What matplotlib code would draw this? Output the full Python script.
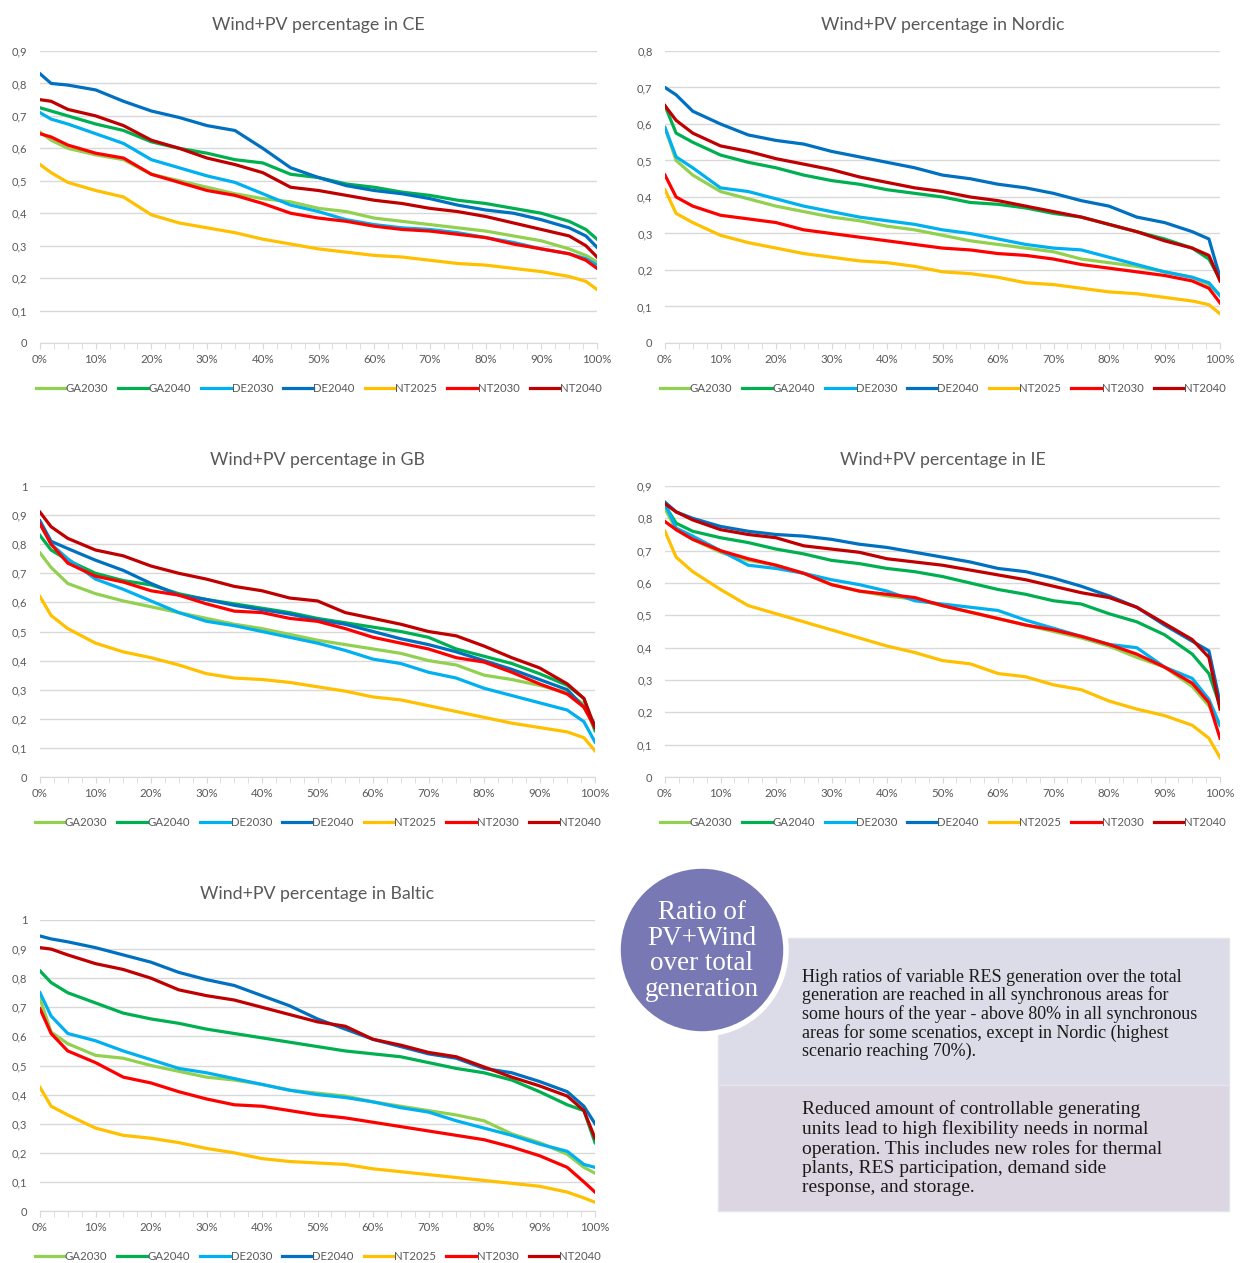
import matplotlib
matplotlib.use("Agg")
import matplotlib.pyplot as plt
from matplotlib.patches import Circle, Rectangle
from matplotlib.ticker import FuncFormatter, MultipleLocator

plt.rcParams['font.family'] = ['Lato', 'DejaVu Sans']

# share of the year (duration curve), in %
x_pct = [0, 2, 5, 10, 15, 20, 25, 30, 35, 40, 45, 50, 55, 60, 65, 70, 75, 80, 85, 90, 95, 98, 100]

scenarios = ['GA2030', 'GA2040', 'DE2030', 'DE2040', 'NT2025', 'NT2030', 'NT2040']
colors = ['#92D050', '#00B050', '#00B0F0', '#0070C0', '#FFC000', '#FF0000', '#C00000']

# Wind+PV share, one list per scenario, same order as scenarios
ce = [
    [0.65, 0.625, 0.60, 0.58, 0.565, 0.52, 0.50, 0.48, 0.46, 0.445, 0.435, 0.415, 0.405, 0.385, 0.375, 0.365, 0.355, 0.345, 0.33, 0.315, 0.29, 0.27, 0.25],
    [0.725, 0.715, 0.70, 0.675, 0.655, 0.62, 0.60, 0.585, 0.565, 0.555, 0.52, 0.51, 0.49, 0.48, 0.465, 0.455, 0.44, 0.43, 0.415, 0.40, 0.375, 0.35, 0.32],
    [0.71, 0.69, 0.675, 0.645, 0.615, 0.565, 0.54, 0.515, 0.495, 0.46, 0.425, 0.405, 0.38, 0.365, 0.355, 0.35, 0.34, 0.325, 0.31, 0.29, 0.275, 0.26, 0.24],
    [0.83, 0.80, 0.795, 0.78, 0.745, 0.715, 0.695, 0.67, 0.655, 0.60, 0.54, 0.51, 0.485, 0.47, 0.46, 0.445, 0.425, 0.41, 0.40, 0.38, 0.355, 0.33, 0.295],
    [0.55, 0.525, 0.495, 0.47, 0.45, 0.395, 0.37, 0.355, 0.34, 0.32, 0.305, 0.29, 0.28, 0.27, 0.265, 0.255, 0.245, 0.24, 0.23, 0.22, 0.205, 0.19, 0.165],
    [0.645, 0.635, 0.61, 0.585, 0.57, 0.52, 0.495, 0.47, 0.455, 0.43, 0.40, 0.385, 0.375, 0.36, 0.35, 0.345, 0.335, 0.325, 0.305, 0.29, 0.275, 0.255, 0.23],
    [0.75, 0.745, 0.72, 0.70, 0.67, 0.625, 0.60, 0.57, 0.55, 0.525, 0.48, 0.47, 0.455, 0.44, 0.43, 0.415, 0.405, 0.39, 0.37, 0.35, 0.33, 0.30, 0.265],
]
nordic = [
    [0.59, 0.50, 0.46, 0.415, 0.395, 0.375, 0.36, 0.345, 0.335, 0.32, 0.31, 0.295, 0.28, 0.27, 0.26, 0.25, 0.23, 0.22, 0.21, 0.195, 0.18, 0.16, 0.13],
    [0.65, 0.575, 0.55, 0.515, 0.495, 0.48, 0.46, 0.445, 0.435, 0.42, 0.41, 0.40, 0.385, 0.38, 0.37, 0.355, 0.345, 0.325, 0.305, 0.285, 0.26, 0.23, 0.175],
    [0.59, 0.51, 0.48, 0.425, 0.415, 0.395, 0.375, 0.36, 0.345, 0.335, 0.325, 0.31, 0.30, 0.285, 0.27, 0.26, 0.255, 0.235, 0.215, 0.195, 0.18, 0.165, 0.13],
    [0.70, 0.68, 0.635, 0.60, 0.57, 0.555, 0.545, 0.525, 0.51, 0.495, 0.48, 0.46, 0.45, 0.435, 0.425, 0.41, 0.39, 0.375, 0.345, 0.33, 0.305, 0.285, 0.18],
    [0.42, 0.355, 0.33, 0.295, 0.275, 0.26, 0.245, 0.235, 0.225, 0.22, 0.21, 0.195, 0.19, 0.18, 0.165, 0.16, 0.15, 0.14, 0.135, 0.125, 0.115, 0.105, 0.08],
    [0.46, 0.40, 0.375, 0.35, 0.34, 0.33, 0.31, 0.30, 0.29, 0.28, 0.27, 0.26, 0.255, 0.245, 0.24, 0.23, 0.215, 0.205, 0.195, 0.185, 0.17, 0.15, 0.11],
    [0.65, 0.61, 0.575, 0.54, 0.525, 0.505, 0.49, 0.475, 0.455, 0.44, 0.425, 0.415, 0.40, 0.39, 0.375, 0.36, 0.345, 0.325, 0.305, 0.28, 0.26, 0.24, 0.17],
]
gb = [
    [0.77, 0.72, 0.665, 0.63, 0.605, 0.585, 0.565, 0.545, 0.525, 0.51, 0.49, 0.47, 0.455, 0.44, 0.425, 0.40, 0.385, 0.35, 0.335, 0.315, 0.29, 0.25, 0.16],
    [0.83, 0.78, 0.745, 0.70, 0.675, 0.66, 0.63, 0.61, 0.595, 0.58, 0.565, 0.545, 0.53, 0.515, 0.50, 0.48, 0.44, 0.415, 0.39, 0.355, 0.315, 0.27, 0.16],
    [0.87, 0.80, 0.75, 0.68, 0.645, 0.605, 0.565, 0.535, 0.52, 0.50, 0.48, 0.46, 0.435, 0.405, 0.39, 0.36, 0.34, 0.305, 0.28, 0.255, 0.23, 0.19, 0.12],
    [0.88, 0.81, 0.785, 0.745, 0.71, 0.665, 0.625, 0.61, 0.59, 0.575, 0.56, 0.54, 0.525, 0.50, 0.475, 0.455, 0.43, 0.40, 0.37, 0.335, 0.30, 0.24, 0.18],
    [0.62, 0.555, 0.51, 0.46, 0.43, 0.41, 0.385, 0.355, 0.34, 0.335, 0.325, 0.31, 0.295, 0.275, 0.265, 0.245, 0.225, 0.205, 0.185, 0.17, 0.155, 0.135, 0.09],
    [0.87, 0.80, 0.735, 0.69, 0.67, 0.64, 0.625, 0.595, 0.57, 0.565, 0.545, 0.535, 0.51, 0.48, 0.46, 0.44, 0.41, 0.395, 0.36, 0.32, 0.285, 0.24, 0.17],
    [0.91, 0.86, 0.82, 0.78, 0.76, 0.725, 0.70, 0.68, 0.655, 0.64, 0.615, 0.605, 0.565, 0.545, 0.525, 0.50, 0.485, 0.45, 0.41, 0.375, 0.32, 0.27, 0.17],
]
ie = [
    [0.83, 0.765, 0.735, 0.695, 0.67, 0.655, 0.63, 0.595, 0.575, 0.56, 0.55, 0.53, 0.51, 0.49, 0.47, 0.45, 0.43, 0.405, 0.37, 0.34, 0.28, 0.22, 0.16],
    [0.84, 0.785, 0.76, 0.74, 0.725, 0.705, 0.69, 0.67, 0.66, 0.645, 0.635, 0.62, 0.60, 0.58, 0.565, 0.545, 0.535, 0.505, 0.48, 0.44, 0.38, 0.32, 0.22],
    [0.845, 0.77, 0.745, 0.70, 0.655, 0.645, 0.63, 0.61, 0.595, 0.575, 0.545, 0.535, 0.525, 0.515, 0.485, 0.46, 0.435, 0.41, 0.40, 0.34, 0.305, 0.24, 0.16],
    [0.85, 0.82, 0.80, 0.775, 0.76, 0.75, 0.745, 0.735, 0.72, 0.71, 0.695, 0.68, 0.665, 0.645, 0.635, 0.615, 0.59, 0.56, 0.525, 0.47, 0.42, 0.39, 0.23],
    [0.76, 0.68, 0.635, 0.58, 0.53, 0.505, 0.48, 0.455, 0.43, 0.405, 0.385, 0.36, 0.35, 0.32, 0.31, 0.285, 0.27, 0.235, 0.21, 0.19, 0.16, 0.12, 0.06],
    [0.79, 0.765, 0.735, 0.70, 0.675, 0.655, 0.63, 0.595, 0.575, 0.565, 0.555, 0.53, 0.51, 0.49, 0.47, 0.455, 0.435, 0.41, 0.38, 0.34, 0.29, 0.23, 0.12],
    [0.845, 0.82, 0.795, 0.765, 0.75, 0.74, 0.715, 0.705, 0.695, 0.675, 0.665, 0.655, 0.64, 0.625, 0.61, 0.59, 0.57, 0.555, 0.525, 0.475, 0.425, 0.37, 0.21],
]
baltic = [
    [0.73, 0.615, 0.575, 0.535, 0.525, 0.50, 0.48, 0.46, 0.45, 0.435, 0.415, 0.405, 0.395, 0.375, 0.36, 0.345, 0.33, 0.31, 0.265, 0.235, 0.195, 0.15, 0.13],
    [0.825, 0.785, 0.75, 0.715, 0.68, 0.66, 0.645, 0.625, 0.61, 0.595, 0.58, 0.565, 0.55, 0.54, 0.53, 0.51, 0.49, 0.475, 0.45, 0.41, 0.365, 0.345, 0.235],
    [0.75, 0.67, 0.61, 0.585, 0.55, 0.52, 0.49, 0.475, 0.455, 0.435, 0.415, 0.40, 0.39, 0.375, 0.355, 0.34, 0.31, 0.285, 0.26, 0.23, 0.205, 0.16, 0.15],
    [0.945, 0.935, 0.925, 0.905, 0.88, 0.855, 0.82, 0.795, 0.775, 0.74, 0.705, 0.66, 0.625, 0.59, 0.565, 0.54, 0.525, 0.49, 0.475, 0.445, 0.41, 0.36, 0.30],
    [0.425, 0.36, 0.33, 0.285, 0.26, 0.25, 0.235, 0.215, 0.20, 0.18, 0.17, 0.165, 0.16, 0.145, 0.135, 0.125, 0.115, 0.105, 0.095, 0.085, 0.065, 0.045, 0.03],
    [0.695, 0.61, 0.55, 0.51, 0.46, 0.44, 0.41, 0.385, 0.365, 0.36, 0.345, 0.33, 0.32, 0.305, 0.29, 0.275, 0.26, 0.245, 0.22, 0.19, 0.15, 0.10, 0.065],
    [0.905, 0.90, 0.88, 0.85, 0.83, 0.80, 0.76, 0.74, 0.725, 0.70, 0.675, 0.65, 0.635, 0.59, 0.57, 0.545, 0.53, 0.495, 0.46, 0.43, 0.395, 0.345, 0.25],
]

W, H = 1243, 1263
GREY = '#595959'
GRID = '#D9D9D9'


def fmt_y(v, pos):
    if abs(v) < 1e-9:
        return '0'
    if abs(v - 1) < 1e-9:
        return '1'
    return ('%.1f' % v).replace('.', ',')


def draw_panel(fig, px_left, px_top, px_right, px_bottom, title, data, ymax):
    ax = fig.add_axes([px_left / W, 1 - px_bottom / H, (px_right - px_left) / W, (px_bottom - px_top) / H])
    for name, col, ys in zip(scenarios, colors, data):
        ax.plot(x_pct, ys, color=col, lw=2.3, label=name, solid_joinstyle='round')
    ax.set_xlim(0, 100)
    ax.set_ylim(0, ymax)
    ax.yaxis.set_major_locator(MultipleLocator(0.1))
    ax.yaxis.set_major_formatter(FuncFormatter(fmt_y))
    ax.xaxis.set_major_locator(MultipleLocator(10))
    ax.xaxis.set_minor_locator(MultipleLocator(2.5))
    ax.xaxis.set_major_formatter(FuncFormatter(lambda v, p: '%d%%' % round(v)))
    ax.grid(axis='y', color=GRID, lw=1)
    ax.set_axisbelow(True)
    for s in ['top', 'right', 'left']:
        ax.spines[s].set_visible(False)
    ax.spines['bottom'].set_color(GRID)
    ax.tick_params(axis='y', length=0, pad=9, labelsize=8, labelcolor=GREY)
    ax.tick_params(axis='x', which='both', length=4, color=GRID, pad=4, labelsize=8.3, labelcolor=GREY)
    ax.set_title(title, fontsize=12.8, color=GREY, pad=15)
    ax.legend(loc='center', bbox_to_anchor=(0.5, -0.155), ncol=7, frameon=False,
              fontsize=8.2, handlelength=2.6, handletextpad=0.05, columnspacing=0.9,
              labelcolor=GREY)
    return ax


fig = plt.figure(figsize=(W / 100, H / 100), dpi=100)

draw_panel(fig, 40, 51, 597, 343, 'Wind+PV percentage in CE', ce, 0.9)
draw_panel(fig, 665, 51, 1220, 343, 'Wind+PV percentage in Nordic', nordic, 0.8)
draw_panel(fig, 40, 486, 595, 777, 'Wind+PV percentage in GB', gb, 1.0)
draw_panel(fig, 665, 486, 1220, 777, 'Wind+PV percentage in IE', ie, 0.9)
draw_panel(fig, 40, 920, 595, 1211, 'Wind+PV percentage in Baltic', baltic, 1.0)

# text box with the circle label, drawn in pixel coordinates
over = fig.add_axes([0, 0, 1, 1], zorder=5)
over.set_xlim(0, W)
over.set_ylim(H, 0)
over.axis('off')
over.add_patch(Rectangle((718, 938), 511, 147, facecolor='#DCDCE8', edgecolor='#E4E4EC', lw=1))
over.add_patch(Rectangle((718, 1085), 511, 126, facecolor='#DCD6E2', edgecolor='#E4E4EC', lw=1))
over.add_patch(Circle((702, 950), 84, facecolor='#7878B4', edgecolor='white', lw=4))
over.text(702, 951, 'Ratio of\nPV+Wind\nover total\ngeneration', ha='center', va='center',
          color='white', fontsize=19.5, family='Liberation Serif', linespacing=1.02)
over.text(802, 1014, 'High ratios of variable RES generation over the total\n'
          'generation are reached in all synchronous areas for\n'
          'some hours of the year - above 80% in all synchronous\n'
          'areas for some scenatios, except in Nordic (highest\n'
          'scenario reaching 70%).', ha='left', va='center', color='#1A1A1A',
          fontsize=13.0, family='Liberation Serif', linespacing=1.07)
over.text(802, 1148, 'Reduced amount of controllable generating\n'
          'units lead to high flexibility needs in normal\n'
          'operation. This includes new roles for thermal\n'
          'plants, RES participation, demand side\n'
          'response, and storage.', ha='left', va='center', color='#1A1A1A',
          fontsize=14.0, family='Liberation Serif', linespacing=1.16)

fig.savefig('out.png', dpi=100)
